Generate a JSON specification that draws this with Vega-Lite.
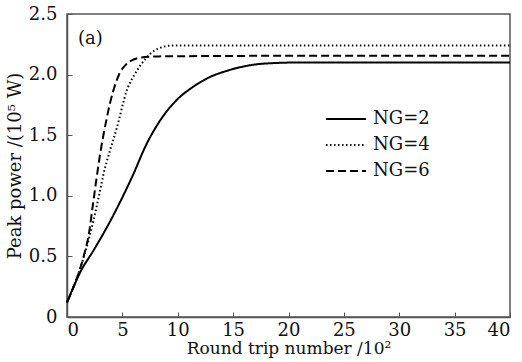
{
  "$schema": "https://vega.github.io/schema/vega-lite/v6.json",
  "autosize": {"type": "none"},
  "width": 443,
  "height": 303,
  "padding": {"left": 67, "top": 14, "right": 12, "bottom": 45},
  "background": "white",
  "config": {
    "view": {"stroke": "#555", "strokeWidth": 1.5},
    "font": "DejaVu Serif",
    "axis": {
      "grid": false,
      "domainColor": "#555",
      "domainWidth": 1.5,
      "tickColor": "#555",
      "tickSize": -5,
      "labelFont": "DejaVu Serif",
      "titleFont": "DejaVu Serif",
      "labelFontSize": 18,
      "labelColor": "#111",
      "titleFontSize": 18,
      "titleFontWeight": "normal",
      "titleColor": "#111"
    }
  },
  "layer": [
    {
      "data": {
        "values": [
          {"s": "NG=2", "x": 0, "y": 0.12},
          {"s": "NG=2", "x": 0.6, "y": 0.25},
          {"s": "NG=2", "x": 1.2, "y": 0.37},
          {"s": "NG=2", "x": 2.4, "y": 0.55},
          {"s": "NG=2", "x": 3.6, "y": 0.74},
          {"s": "NG=2", "x": 4.8, "y": 0.95},
          {"s": "NG=2", "x": 5.9, "y": 1.16},
          {"s": "NG=2", "x": 7.2, "y": 1.43},
          {"s": "NG=2", "x": 8.4, "y": 1.62},
          {"s": "NG=2", "x": 9.9, "y": 1.79},
          {"s": "NG=2", "x": 11.4, "y": 1.9},
          {"s": "NG=2", "x": 12.9, "y": 1.98},
          {"s": "NG=2", "x": 14.4, "y": 2.03},
          {"s": "NG=2", "x": 15.6, "y": 2.06},
          {"s": "NG=2", "x": 17.7, "y": 2.09},
          {"s": "NG=2", "x": 21, "y": 2.1},
          {"s": "NG=2", "x": 30, "y": 2.1},
          {"s": "NG=2", "x": 40, "y": 2.1},
          {"s": "NG=4", "x": 0, "y": 0.12},
          {"s": "NG=4", "x": 0.6, "y": 0.25},
          {"s": "NG=4", "x": 1.6, "y": 0.52},
          {"s": "NG=4", "x": 2.4, "y": 0.8},
          {"s": "NG=4", "x": 3.0, "y": 1.05},
          {"s": "NG=4", "x": 3.3, "y": 1.18},
          {"s": "NG=4", "x": 3.9, "y": 1.38},
          {"s": "NG=4", "x": 4.5, "y": 1.56},
          {"s": "NG=4", "x": 5.4, "y": 1.87},
          {"s": "NG=4", "x": 6.3, "y": 2.03},
          {"s": "NG=4", "x": 7.0, "y": 2.12},
          {"s": "NG=4", "x": 7.5, "y": 2.17},
          {"s": "NG=4", "x": 8.4, "y": 2.22},
          {"s": "NG=4", "x": 9.5, "y": 2.24},
          {"s": "NG=4", "x": 20, "y": 2.24},
          {"s": "NG=4", "x": 40, "y": 2.24},
          {"s": "NG=6", "x": 0, "y": 0.12},
          {"s": "NG=6", "x": 0.6, "y": 0.25},
          {"s": "NG=6", "x": 1.5, "y": 0.5},
          {"s": "NG=6", "x": 2.0, "y": 0.7},
          {"s": "NG=6", "x": 2.3, "y": 0.9},
          {"s": "NG=6", "x": 2.6, "y": 1.1},
          {"s": "NG=6", "x": 3.0, "y": 1.35},
          {"s": "NG=6", "x": 3.5, "y": 1.6},
          {"s": "NG=6", "x": 3.9, "y": 1.77},
          {"s": "NG=6", "x": 4.4, "y": 1.93},
          {"s": "NG=6", "x": 4.8, "y": 2.02},
          {"s": "NG=6", "x": 5.3, "y": 2.08},
          {"s": "NG=6", "x": 5.7, "y": 2.11},
          {"s": "NG=6", "x": 6.6, "y": 2.14},
          {"s": "NG=6", "x": 8, "y": 2.15},
          {"s": "NG=6", "x": 20, "y": 2.155},
          {"s": "NG=6", "x": 40, "y": 2.155}
        ]
      },
      "mark": {"type": "line", "interpolate": "monotone", "color": "black", "strokeWidth": 2},
      "encoding": {
        "x": {
          "field": "x", "type": "quantitative",
          "scale": {"domain": [0, 40], "nice": false},
          "axis": {"values": [0, 5, 10, 15, 20, 25, 30, 35, 40], "title": "Round trip number /10²", "titlePadding": 1, "titleFontSize": 17, "labelPadding": 9}
        },
        "y": {
          "field": "y", "type": "quantitative",
          "scale": {"domain": [0, 2.5], "nice": false},
          "axis": {"values": [0, 0.5, 1, 1.5, 2, 2.5], "title": "Peak power /(10⁵ W)", "labelExpr": "datum.value == 0 ? '0' : format(datum.value, '.1f')", "titlePadding": 4, "labelPadding": 15}
        },
        "strokeDash": {
          "field": "s", "type": "nominal",
          "scale": {"domain": ["NG=2", "NG=4", "NG=6"], "range": [[1, 0], [1.5, 2.5], [8, 4]]},
          "legend": {
            "title": null, "orient": "none", "legendX": 268, "legendY": 94,
            "symbolType": "M-2,0L2,0", "symbolSize": 400, "symbolStrokeWidth": 2, "symbolStrokeColor": "black",
            "labelFont": "DejaVu Serif", "labelFontSize": 18, "labelColor": "#111", "rowPadding": 6, "labelOffset": 16
          }
        }
      }
    },
    {
      "data": {"values": [{"label": "(a)"}]},
      "mark": {"type": "text", "font": "DejaVu Serif", "fontSize": 18, "align": "left", "baseline": "middle", "color": "#111"},
      "encoding": {
        "x": {"datum": 1.0},
        "y": {"datum": 2.29},
        "text": {"field": "label", "type": "nominal"}
      }
    }
  ]
}
